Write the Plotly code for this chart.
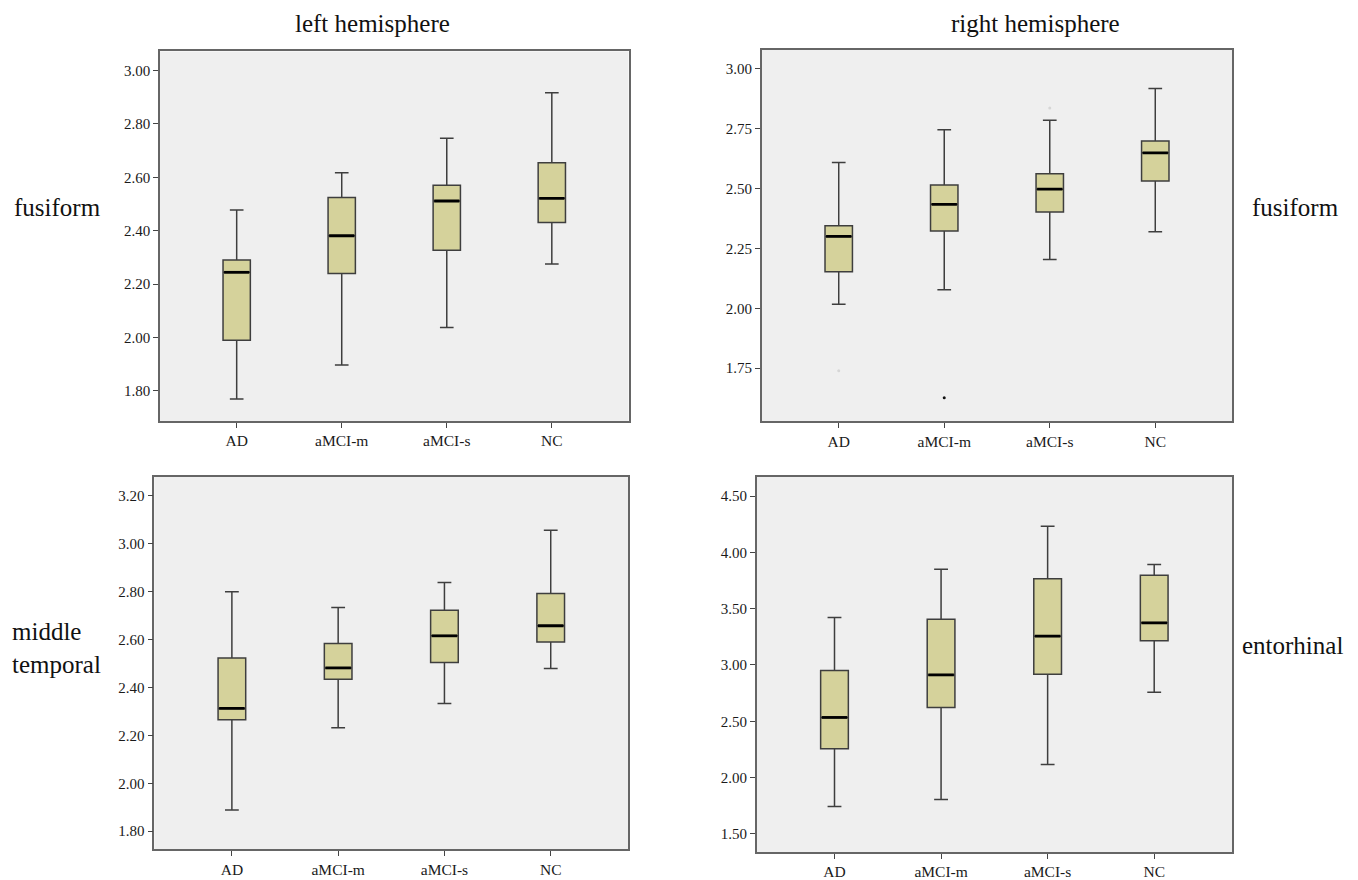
import plotly.graph_objects as go

W, H = 1358, 880

cats = ["AD", "aMCI-m", "aMCI-s", "NC"]

# left hemisphere – fusiform
lf_low = [1.770, 1.897, 2.037, 2.275]
lf_q1 = [1.990, 2.240, 2.327, 2.431]
lf_med = [2.244, 2.381, 2.511, 2.521]
lf_q3 = [2.290, 2.524, 2.570, 2.654]
lf_high = [2.477, 2.617, 2.746, 2.916]

# right hemisphere – fusiform
rf_low = [2.017, 2.077, 2.204, 2.319]
rf_q1 = [2.153, 2.323, 2.402, 2.531]
rf_med = [2.300, 2.434, 2.497, 2.649]
rf_q3 = [2.344, 2.515, 2.562, 2.698]
rf_high = [2.608, 2.745, 2.785, 2.917]
rf_out_cat = [0, 1, 2]
rf_out_val = [1.739, 1.627, 2.836]
rf_out_faint = [True, False, True]

# left hemisphere – middle temporal
lm_low = [1.889, 2.232, 2.333, 2.480]
lm_q1 = [2.265, 2.435, 2.505, 2.590]
lm_med = [2.313, 2.482, 2.616, 2.658]
lm_q3 = [2.523, 2.584, 2.723, 2.793]
lm_high = [2.800, 2.734, 2.839, 3.057]

# right hemisphere – entorhinal
re_low = [1.744, 1.806, 2.116, 2.758]
re_q1 = [2.257, 2.622, 2.917, 3.215]
re_med = [2.534, 2.912, 3.256, 3.374]
re_q3 = [2.950, 3.407, 3.766, 3.796]
re_high = [3.421, 3.849, 4.232, 3.893]

tl_ticks = [1.80, 2.00, 2.20, 2.40, 2.60, 2.80, 3.00]
tr_ticks = [1.75, 2.00, 2.25, 2.50, 2.75, 3.00]
bl_ticks = [1.80, 2.00, 2.20, 2.40, 2.60, 2.80, 3.00, 3.20]
br_ticks = [1.50, 2.00, 2.50, 3.00, 3.50, 4.00, 4.50]

FONT = "Liberation Serif"
BOX_FILL = "#d5d29b"
BOX_LINE = "#3e3e3e"
BOX_W = 0.26

fig = go.Figure()

panels = [
    ("x", "y", lf_low, lf_q1, lf_med, lf_q3, lf_high),
    ("x2", "y2", rf_low, rf_q1, rf_med, rf_q3, rf_high),
    ("x3", "y3", lm_low, lm_q1, lm_med, lm_q3, lm_high),
    ("x4", "y4", re_low, re_q1, re_med, re_q3, re_high),
]

pos = list(range(len(cats)))

for xa, ya, lo, q1, med, q3, hi in panels:
    fig.add_trace(go.Box(
        x=pos, q1=q1, median=med, q3=q3, lowerfence=lo, upperfence=hi,
        xaxis=xa, yaxis=ya, width=BOX_W, whiskerwidth=0.5,
        fillcolor=BOX_FILL, line=dict(color=BOX_LINE, width=1.5),
        boxpoints=False, showlegend=False, hoverinfo="skip",
    ))
    mx, my = [], []
    for p, m in zip(pos, med):
        mx += [p - BOX_W / 2 + 0.01, p + BOX_W / 2 - 0.01, None]
        my += [m, m, None]
    fig.add_trace(go.Scatter(
        x=mx, y=my, mode="lines", xaxis=xa, yaxis=ya,
        line=dict(color="#000000", width=2.8), showlegend=False, hoverinfo="skip",
    ))

# outliers in right fusiform
fig.add_trace(go.Scatter(
    x=rf_out_cat, y=rf_out_val, mode="markers", xaxis="x2", yaxis="y2",
    marker=dict(size=3, color=["#d6d6d6" if f else "#111111" for f in rf_out_faint]),
    showlegend=False, hoverinfo="skip",
))

def xd(a, b):
    return [a / W, b / W]

def yd(top, bottom):
    return [1 - bottom / H, 1 - top / H]

domains = {
    "1": (xd(160, 628.5), yd(51.7, 423)),
    "2": (xd(761.7, 1232.3), yd(50, 423.3)),
    "3": (xd(154.3, 628.3), yd(479, 853.3)),
    "4": (xd(756.7, 1232), yd(479, 856)),
}
yranges = {
    "1": ([1.687, 3.071], tl_ticks),
    "2": ([1.528, 3.079], tr_ticks),
    "3": ([1.724, 3.280], bl_ticks),
    "4": ([1.338, 4.671], br_ticks),
}

layout = dict(
    width=W, height=H, autosize=False,
    margin=dict(l=0, r=0, t=0, b=0),
    paper_bgcolor="white",
    plot_bgcolor="#efefef",
    font=dict(family=FONT, color="#1a1a1a"),
    showlegend=False,
)

for k in ["1", "2", "3", "4"]:
    sx = "" if k == "1" else k
    xdom, ydom = domains[k]
    yr, yt = yranges[k]
    layout["xaxis" + sx] = dict(
        domain=xdom, anchor="y" + sx, range=[-0.73, 3.73],
        tickmode="array", tickvals=pos, ticktext=cats,
        ticks="outside", ticklen=5, tickcolor="#444444", tickwidth=1.3,
        showline=True, linecolor="#666666", linewidth=1.5, mirror=True,
        showgrid=False, zeroline=False,
        tickfont=dict(family=FONT, size=15.5, color="#1a1a1a"),
    )
    layout["yaxis" + sx] = dict(
        domain=ydom, anchor="x" + sx, range=yr,
        tickmode="array", tickvals=yt, ticktext=[f"{v:.2f}" for v in yt],
        ticks="outside", ticklen=5, tickcolor="#444444", tickwidth=1.3,
        showline=True, linecolor="#666666", linewidth=1.5, mirror=True,
        showgrid=False, zeroline=False,
        tickfont=dict(family=FONT, size=15, color="#1a1a1a"),
    )

fig.update_layout(**layout)

def ann(text, px, py, xanchor="center", align="center"):
    fig.add_annotation(
        text=text, x=px / W, y=1 - py / H, xref="paper", yref="paper",
        xanchor=xanchor, yanchor="middle", align=align, showarrow=False,
        font=dict(family=FONT, size=25, color="#111111"),
    )

ann("left hemisphere", 372, 24)
ann("right hemisphere", 1035, 24)
ann("fusiform", 12, 208, xanchor="left", align="left")
ann("fusiform", 1250, 208, xanchor="left", align="left")
ann("middle<br>temporal", 10, 651, xanchor="left", align="left")
ann("entorhinal", 1240, 648, xanchor="left", align="left")

fig.write_html("out.html")
